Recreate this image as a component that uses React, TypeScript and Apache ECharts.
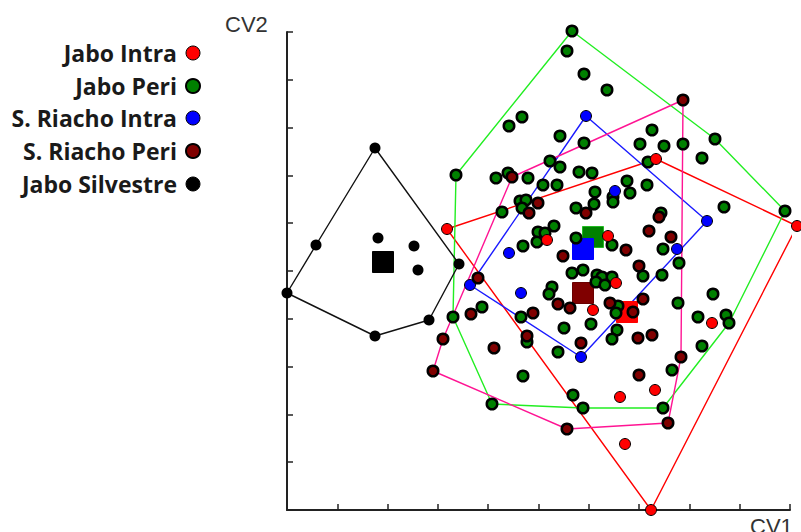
import React, { useEffect, useRef } from "react";
import * as echarts from "echarts";

// Canonical variate scores (arbitrary CV units)
const groupNames = ["Jabo Intra", "Jabo Peri", "S. Riacho Intra", "S. Riacho Peri", "Jabo Silvestre"];

const jaboIntra: [number, number][] = [
  [160, 281], [369, 351], [510, 284], [364, 0], [260, 270], [321, 274],
  [329, 227], [306, 200], [425, 187], [368, 120], [333, 113], [338, 66],
];

const jaboPeri: [number, number][] = [
  [285, 479], [280, 459], [297, 436], [320, 420], [235, 393], [222, 384], [365, 380],
  [273, 374], [297, 367], [353, 366], [377, 364], [396, 366], [428, 371], [415, 352],
  [361, 348], [263, 349], [273, 343], [292, 338], [305, 337], [169, 335], [209, 332],
  [221, 337], [241, 332], [256, 325], [270, 325], [340, 329], [360, 325], [308, 318],
  [343, 317], [326, 313], [326, 308], [233, 309], [239, 310], [235, 302], [215, 298],
  [289, 302], [307, 306], [437, 303], [498, 299], [374, 297], [267, 284], [251, 278],
  [258, 277], [250, 268], [236, 264], [289, 272], [325, 265], [376, 261], [392, 247],
  [296, 240], [285, 237], [310, 235], [315, 233], [309, 228], [318, 225], [325, 233],
  [356, 234], [375, 235], [265, 223], [262, 216], [195, 203], [166, 193], [234, 193],
  [240, 168], [277, 182], [304, 186], [331, 204], [329, 197], [330, 180], [325, 171],
  [391, 207], [411, 193], [426, 216], [439, 195], [442, 187], [415, 164], [271, 158],
  [385, 140], [236, 134], [286, 115], [296, 102], [376, 102], [205, 106],
];

const riachoIntra: [number, number][] = [
  [299, 394], [420, 289], [390, 261], [294, 153], [183, 225], [222, 257], [234, 217], [328, 319],
];

const riachoPeri: [number, number][] = [
  [396, 410], [225, 333], [251, 307], [242, 297], [276, 254], [299, 297], [372, 293],
  [362, 279], [384, 273], [339, 260], [352, 244], [191, 232], [184, 196], [156, 171],
  [146, 139], [207, 162], [246, 197], [240, 174], [271, 206], [283, 202], [323, 207],
  [346, 198], [356, 211], [351, 172], [365, 175], [294, 167], [394, 153], [352, 135],
  [381, 87], [280, 81],
];

const jaboSilvestre: [number, number][] = [
  [88, 362], [172, 246], [142, 190], [88, 174], [0, 217], [29, 265], [91, 272], [127, 264], [131, 240],
];

// Group centroids (squares)
const centroids: [number, number][] = [
  [340, 198], // Jabo Intra
  [306, 273], // Jabo Peri
  [296, 261], // S. Riacho Intra
  [296, 217], // S. Riacho Peri
  [96, 248],  // Jabo Silvestre
];

const X_MAX = 503;
const X_STEP = 50.3;
const Y_MAX = 478;
const Y_STEP = 47.8;

const groupData = [jaboIntra, jaboPeri, riachoIntra, riachoPeri, jaboSilvestre];
const fillColors = ["#ff0000", "#008000", "#0000ff", "#800000", "#000000"];
const hullColors = ["#ff0000", "#22ee22", "#1a1aff", "#ff1493", "#111111"];
const borderWidths = [1, 2.5, 1, 2.5, 0];
const symbolSizes = [11, 10.5, 11, 10.5, 11];
const centroidBorder = ["#ff0000", "#22bb22", "#0000ff", "#6a0000", "#000000"];
// draw order of point series
const pointOrder = [1, 0, 2, 3, 4];
const centroidOrder = [0, 3, 1, 2, 4];

function convexHull(pts: [number, number][]): [number, number][] {
  const p = pts.slice().sort((a, b) => (a[0] - b[0]) || (a[1] - b[1]));
  const cross = (o: number[], a: number[], b: number[]) =>
    (a[0] - o[0]) * (b[1] - o[1]) - (a[1] - o[1]) * (b[0] - o[0]);
  const lower: [number, number][] = [];
  for (const q of p) {
    while (lower.length >= 2 && cross(lower[lower.length - 2], lower[lower.length - 1], q) <= 0) lower.pop();
    lower.push(q);
  }
  const upper: [number, number][] = [];
  for (let i = p.length - 1; i >= 0; i--) {
    const q = p[i];
    while (upper.length >= 2 && cross(upper[upper.length - 2], upper[upper.length - 1], q) <= 0) upper.pop();
    upper.push(q);
  }
  upper.pop();
  lower.pop();
  const h = lower.concat(upper);
  h.push(h[0]);
  return h;
}

export default function App() {
  const ref = useRef<HTMLDivElement>(null);

  useEffect(() => {
    if (!ref.current) return;
    const chart = echarts.init(ref.current, undefined, { renderer: "svg" });

    const hullSeries = groupData.map((pts, i) => ({
      type: "line",
      name: groupNames[i] + " hull",
      data: convexHull(pts),
      symbol: "none",
      clip: false,
      silent: true,
      lineStyle: { color: hullColors[i], width: 1.4 },
      z: 2,
    }));

    const centroidSeries = centroidOrder.map((i) => ({
      type: "scatter",
      name: groupNames[i] + " centroid",
      data: [centroids[i]],
      symbol: "rect",
      symbolSize: 21,
      clip: false,
      itemStyle: { color: fillColors[i], borderColor: centroidBorder[i], borderWidth: 1, opacity: 1 },
      z: 3,
    }));

    const pointSeries = pointOrder.map((i) => ({
      type: "scatter",
      name: groupNames[i],
      data: groupData[i],
      symbol: "circle",
      symbolSize: symbolSizes[i],
      clip: false,
      itemStyle: {
        color: fillColors[i],
        borderColor: "#000",
        borderWidth: borderWidths[i],
        opacity: 1,
      },
      z: 4,
    }));

    const legendY = [53, 86, 118, 151, 184];
    const legendGraphics: any[] = [];
    groupNames.forEach((n, i) => {
      legendGraphics.push({
        type: "text",
        style: {
          text: n,
          x: 177,
          y: legendY[i],
          align: "right",
          verticalAlign: "middle",
          fill: "#1a1a1a",
          font: "bold 23px 'Open Sans'",
        },
      });
      legendGraphics.push({
        type: "circle",
        shape: { cx: 193, cy: legendY[i], r: 7 },
        style: {
          fill: fillColors[i],
          stroke: "#000",
          lineWidth: i === 1 || i === 3 ? 2 : 1,
        },
      });
    });

    chart.setOption({
      animation: false,
      backgroundColor: "#ffffff",
      grid: { left: 287, top: 32, right: 11, bottom: 22, containLabel: false, outerBoundsMode: "none" },
      xAxis: {
        type: "value",
        min: 0,
        max: X_MAX,
        interval: X_STEP,
        axisLine: { show: true, onZero: false, lineStyle: { color: "#222", width: 2 } },
        axisTick: { show: true, inside: true, length: 6, lineStyle: { color: "#222", width: 1.5 } },
        axisLabel: { show: false },
        splitLine: { show: false },
      },
      yAxis: {
        type: "value",
        min: 0,
        max: Y_MAX,
        interval: Y_STEP,
        axisLine: { show: true, onZero: false, lineStyle: { color: "#222", width: 2 } },
        axisTick: { show: true, inside: true, length: 6, lineStyle: { color: "#222", width: 1.5 } },
        axisLabel: { show: false },
        splitLine: { show: false },
      },
      graphic: [
        ...legendGraphics,
        {
          type: "text",
          style: {
            text: "CV2",
            x: 225,
            y: 24,
            align: "left",
            verticalAlign: "middle",
            fill: "#333",
            font: "22px 'Liberation Sans'",
          },
        },
        {
          type: "text",
          style: {
            text: "CV1",
            x: 750,
            y: 526,
            align: "left",
            verticalAlign: "middle",
            fill: "#333",
            font: "22px 'Liberation Sans'",
          },
        },
      ],
      series: [...hullSeries, ...centroidSeries, ...pointSeries],
    });

    return () => chart.dispose();
  }, []);

  return (
    <div
      ref={ref}
      style={{ position: "fixed", left: 0, top: 0, width: 801, height: 532, background: "#fff" }}
    />
  );
}
